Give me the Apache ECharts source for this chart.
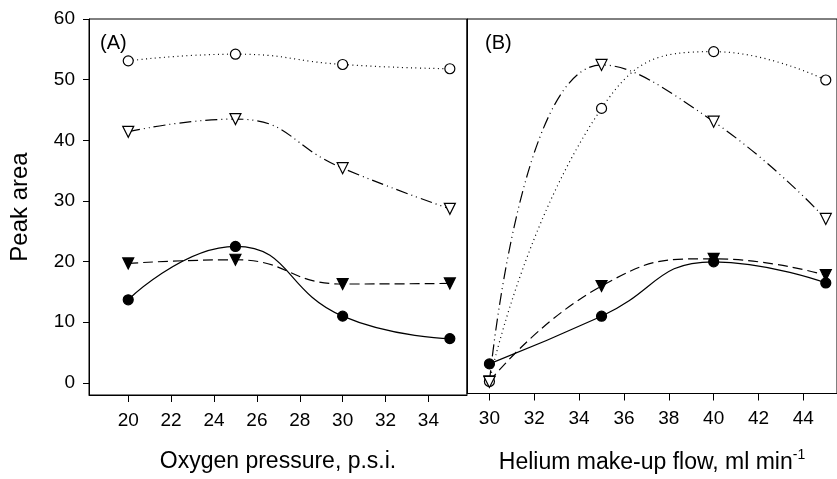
<!DOCTYPE html>
<html lang="en">
<head>
	<meta charset="UTF-8">
	<title>Peak area</title>
	<script src="https://cdn.jsdelivr.net/npm/echarts@6/dist/echarts.min.js"></script>
	<style>
		html, body { margin: 0; padding: 0; background: #fff; }
		#main { width: 837px; height: 479px; }
	</style>
</head>
<body>
	<div id="main"></div>
	<script type="text/javascript">
		// panel A: oxygen pressure (p.s.i.)
		var oxygen = [20, 25, 30, 35];
		var aOpenCircle = [53.1, 54.2, 52.5, 51.8];
		var aOpenTri = [41.4, 43.5, 35.4, 28.7];
		var aFilledTri = [19.7, 20.3, 16.3, 16.4];
		var aFilledCircle = [13.7, 22.5, 11.0, 7.3];

		// panel B: helium make-up flow (ml/min)
		var helium = [30, 35, 40, 45];
		var bOpenCircle = [0, 45.2, 54.6, 49.9];
		var bOpenTri = [-0.1, 52.4, 43.0, 26.9];
		var bFilledTri = [0, 15.8, 20.3, 17.6];
		var bFilledCircle = [2.9, 10.8, 19.8, 16.3];

		var yTicks = [0, 10, 20, 30, 40, 50, 60];
		var xTicksA = [20, 22, 24, 26, 28, 30, 32, 34];
		var xTicksB = [30, 32, 34, 36, 38, 40, 42, 44];

		var font = 'Liberation Sans, Arial, sans-serif';

		function pairs(xs, ys) {
			return xs.map(function (x, i) { return [x, ys[i]]; });
		}

		function line(name, grid, xs, ys, opts) {
			return {
				name: name,
				type: 'line',
				xAxisIndex: grid,
				yAxisIndex: grid,
				data: pairs(xs, ys),
				smooth: true,
				symbol: opts.symbol,
				symbolSize: opts.size,
				symbolRotate: opts.rotate || 0,
				z: opts.z,
				lineStyle: { color: '#000', width: 1.2, type: opts.dash },
				itemStyle: { color: opts.fill, borderColor: '#000', borderWidth: 1.2 },
				animation: false
			};
		}

		var myChart = echarts.init(document.getElementById('main'));

		var option = {
			backgroundColor: '#fff',
			textStyle: { fontFamily: font, color: '#000' },
			title: [
				{ text: '(A)', left: 95, top: 28, textStyle: { fontFamily: font, fontSize: 20, fontWeight: 'normal', color: '#000' } },
				{ text: '(B)', left: 480, top: 28, textStyle: { fontFamily: font, fontSize: 20, fontWeight: 'normal', color: '#000' } }
			],
			grid: [
				{ left: 89, top: 19, width: 378, height: 376, show: true, borderColor: '#000', borderWidth: 1, backgroundColor: 'transparent' },
				{ left: 467, top: 19, width: 372, height: 376, show: true, borderColor: '#000', borderWidth: 1, backgroundColor: 'transparent' }
			],
			xAxis: [
				{
					type: 'value', gridIndex: 0, min: 18.17, max: 35.8,
					splitLine: { show: false },
					axisLine: { show: true, onZero: false, lineStyle: { color: '#000' } },
					axisTick: { show: true, length: 7, customValues: xTicksA, lineStyle: { color: '#000' } },
					axisLabel: { customValues: xTicksA, margin: 16, fontSize: 19, color: '#000', fontFamily: font },
					name: 'Oxygen pressure, p.s.i.',
					nameLocation: 'middle', nameGap: 55,
					nameTextStyle: { fontSize: 23, color: '#000', fontFamily: font }
				},
				{
					type: 'value', gridIndex: 1, min: 29, max: 45.5,
					splitLine: { show: false },
					axisLine: { show: true, onZero: false, lineStyle: { color: '#000' } },
					axisTick: { show: true, length: 7, customValues: xTicksB, lineStyle: { color: '#000' } },
					axisLabel: { customValues: xTicksB, margin: 16, fontSize: 19, color: '#000', fontFamily: font },
					name: 'Helium make-up flow, ml min{sup|-1}',
					nameLocation: 'middle', nameGap: 55,
					nameTextStyle: {
						fontSize: 23, color: '#000', fontFamily: font,
						rich: { sup: { fontSize: 14, verticalAlign: 'top', padding: [0, 0, 14, 0], color: '#000', fontFamily: font } }
					}
				}
			],
			yAxis: [
				{
					type: 'value', gridIndex: 0, min: -2, max: 60,
					splitLine: { show: false },
					axisLine: { show: true, onZero: false, lineStyle: { color: '#000' } },
					axisTick: { show: true, length: 6, customValues: yTicks, lineStyle: { color: '#000' } },
					axisLabel: { customValues: yTicks, margin: 14, fontSize: 19, color: '#000', fontFamily: font },
					name: 'Peak area',
					nameLocation: 'middle', nameGap: 57,
					nameTextStyle: { fontSize: 24, color: '#000', fontFamily: font }
				},
				{
					type: 'value', gridIndex: 1, min: -2, max: 60,
					splitLine: { show: false },
					axisLine: { show: true, onZero: false, lineStyle: { color: '#000' } },
					axisTick: { show: false },
					axisLabel: { show: false }
				}
			],
			series: [
				line('filled triangle', 0, oxygen, aFilledTri, { symbol: 'triangle', size: 11, rotate: 180, dash: [10, 5], fill: '#000', z: 2 }),
				line('filled circle', 0, oxygen, aFilledCircle, { symbol: 'circle', size: 10, dash: 'solid', fill: '#000', z: 3 }),
				line('open circle', 0, oxygen, aOpenCircle, { symbol: 'circle', size: 10, dash: [1, 3.5], fill: '#fff', z: 4 }),
				line('open triangle', 0, oxygen, aOpenTri, { symbol: 'triangle', size: 11, rotate: 180, dash: [12, 4, 1, 4, 1, 4], fill: '#fff', z: 5 }),
				line('filled triangle', 1, helium, bFilledTri, { symbol: 'triangle', size: 11, rotate: 180, dash: [10, 5], fill: '#000', z: 2 }),
				line('filled circle', 1, helium, bFilledCircle, { symbol: 'circle', size: 10, dash: 'solid', fill: '#000', z: 3 }),
				line('open circle', 1, helium, bOpenCircle, { symbol: 'circle', size: 10, dash: [1, 3.5], fill: '#fff', z: 4 }),
				line('open triangle', 1, helium, bOpenTri, { symbol: 'triangle', size: 11, rotate: 180, dash: [12, 4, 1, 4, 1, 4], fill: '#fff', z: 5 })
			]
		};

		myChart.setOption(option);
	</script>
</body>
</html>
